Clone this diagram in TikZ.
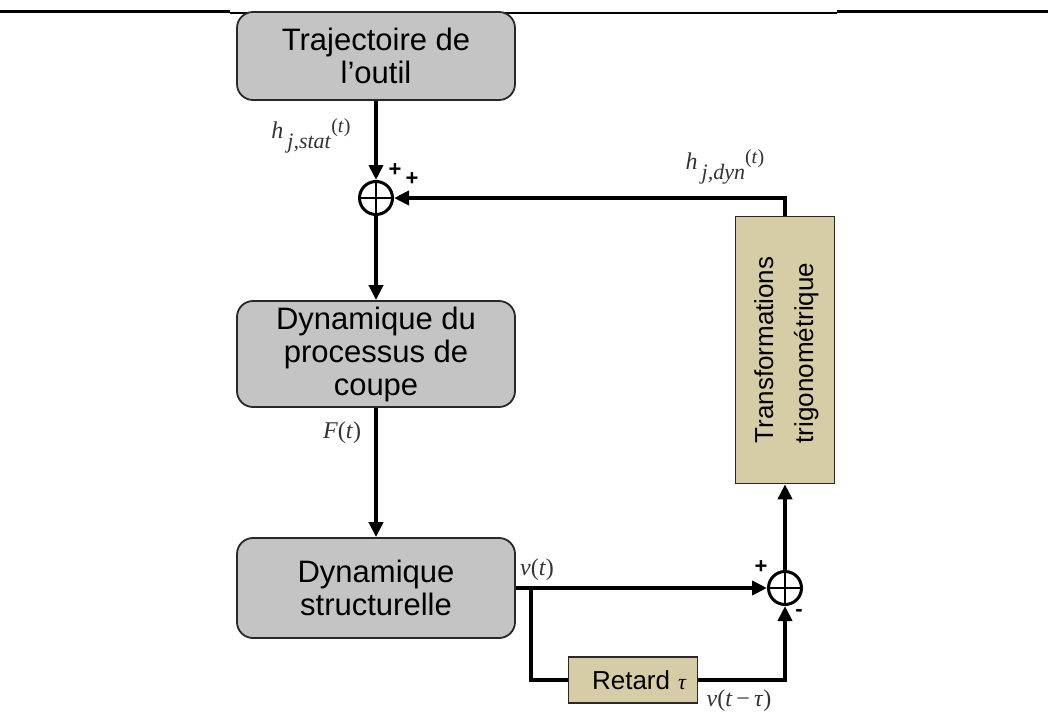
\documentclass[tikz,border=0pt]{standalone}
\usepackage{fontspec}
\setmainfont{Liberation Sans}
\newfontfamily\lblfont{Liberation Serif}
\usetikzlibrary{arrows.meta}
\definecolor{boxgray}{RGB}{196,196,196}
\definecolor{boxtan}{RGB}{214,205,166}
\definecolor{boxline}{RGB}{40,40,40}
\newcommand{\hsig}[1]{\textit{h}\,\raisebox{-0.4em}{\fontsize{22}{22}\selectfont\textit{#1}}\raisebox{0.25em}{\fontsize{20}{20}\selectfont(\textit{t})}}
\begin{document}
\begin{tikzpicture}[x=1pt,y=-1pt,
	block/.style={draw=boxline,line width=1.8pt,fill=boxgray,rounded corners=16pt,minimum width=278pt,align=center,font=\fontsize{31}{33}\selectfont},
	tanblock/.style={draw=boxline,line width=1.6pt,fill=boxtan},
	sum/.style={circle,draw,line width=3pt,minimum size=33pt,inner sep=0pt,
		path picture={\draw[line width=2.4pt] (path picture bounding box.north) -- (path picture bounding box.south) (path picture bounding box.east) -- (path picture bounding box.west);}},
	sig/.style={font=\lblfont\fontsize{24}{24}\selectfont,text=black!80},
	sign/.style={font=\bfseries\fontsize{22}{22}\selectfont},
	wire/.style={line width=4.5pt},
	arr/.style={line width=4.5pt,-{Triangle[length=15pt,width=14pt]}}]
	\useasboundingbox (0,0) rectangle (1048,715);
	\draw[line width=3pt] (0,11) -- (230,11) (837,11) -- (1048,11);
	\draw[line width=1.2pt] (230,13) -- (837,13);

	\node[block,minimum height=88pt] (traj) at (376,56) {Trajectoire de\\l’outil};
	\node[sum] (sum1) at (376,198) {};
	\node[block,minimum height=106pt] (coupe) at (376,354) {Dynamique du\\processus de\\coupe};
	\node[block,minimum height=100pt] (struct) at (376,588) {Dynamique\\structurelle};
	\node[sum] (sum2) at (785,588) {};
	\node[tanblock,minimum width=99pt,minimum height=267pt] (transf) at (785,350)
		{\rotatebox{90}{\fontsize{26}{40}\selectfont\begin{tabular}{@{}l@{}}Transformations\\trigonométrique\end{tabular}}};
	\node[tanblock,minimum width=129pt,minimum height=46pt,font=\fontsize{26}{26}\selectfont] (retard) at (633,680)
		{\hspace{12pt}Retard\hspace{8pt}{\lblfont\itshape\fontsize{22}{22}\selectfont τ}};
	\coordinate (br) at (531,588);

	\node[sig] (hstat) at (311,136) {\hsig{j,stat}};
	\node[sig] (hdyn) at (725,167) {\hsig{j,dyn}};
	\node[sig] (ft) at (342,433) {\textit{F}(\textit{t})};
	\node[sig] (vt) at (537,570) {\textit{v}(\textit{t})};
	\node[sig] (vtau) at (739,701) {\textit{v}(\textit{t}\,−\,\textit{τ})};
	\node[sign] (p1) at (395,170) {+};
	\node[sign] (p2) at (412,179) {+};
	\node[sign] (p3) at (761,567) {+};
	\node[sign] (m1) at (799,613) {-};

	\draw[arr] (traj) -- (sum1);
	\draw[arr] (sum1) -- (coupe);
	\draw[arr] (coupe) -- (struct);
	\draw[arr] (struct) -- (sum2);
	\draw[wire] (br) |- (retard.west);
	\draw[arr] (retard.east) -| (sum2.south);
	\draw[arr] (sum2) -- (transf);
	\draw[arr] (transf.north) |- (sum1.east);
\end{tikzpicture}
\end{document}
